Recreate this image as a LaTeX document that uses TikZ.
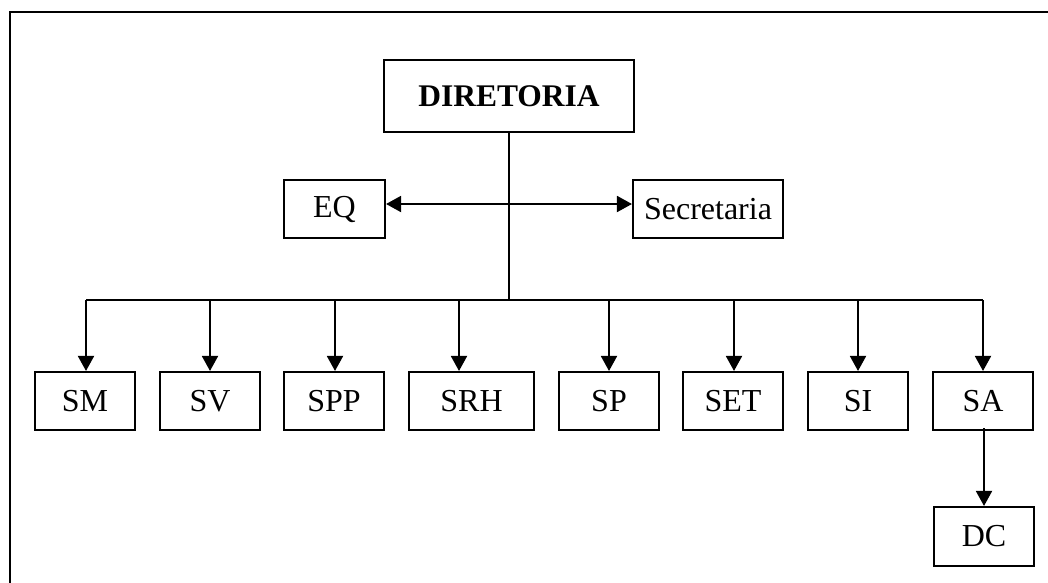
\documentclass[tikz,border=0pt]{standalone}
\usepackage{fontspec}
\setmainfont{Liberation Serif}
\usetikzlibrary{arrows.meta}
\begin{document}
\begin{tikzpicture}[x=1pt,y=-1pt,
  unit/.style={draw, line width=2.1pt, inner sep=0pt, font=\fontsize{32}{36}\selectfont},
  link/.style={line width=1.9pt},
  tip/.style={link, -{Triangle[length=15pt,width=16pt]}},
  both/.style={link, {Triangle[length=15pt,width=16pt]}-{Triangle[length=15pt,width=16pt]}}]
\useasboundingbox (0,0) rectangle (1048,582);
% outer frame
\draw[line width=1.5pt] (10,600) -- (10,12) -- (1070,12);

% top level
\node[unit, minimum width=250pt, minimum height=72pt, font=\fontsize{31.5}{36}\selectfont\bfseries] (dir) at (509,96) {DIRETORIA};
\node[unit, minimum width=101pt, minimum height=58pt] (eq) at (334.5,209) {EQ};
\node[unit, minimum width=150pt, minimum height=58pt] (sec) at (708,209) {Secretaria};

% departments
\node[unit, minimum width=100pt, minimum height=58pt] (sm)  at (85,401)    {SM};
\node[unit, minimum width=100pt, minimum height=58pt] (sv)  at (210,401)   {SV};
\node[unit, minimum width=100pt, minimum height=58pt] (spp) at (334,401)   {SPP};
\node[unit, minimum width=125pt, minimum height=58pt] (srh) at (471.5,401) {SRH};
\node[unit, minimum width=100pt, minimum height=58pt] (sp)  at (609,401)   {SP};
\node[unit, minimum width=100pt, minimum height=58pt] (set) at (733,401)   {SET};
\node[unit, minimum width=100pt, minimum height=58pt] (si)  at (858,401)   {SI};
\node[unit, minimum width=100pt, minimum height=58pt] (sa)  at (983,401)   {SA};
\node[unit, minimum width=100pt, minimum height=59pt] (dc)  at (984,536.5) {DC};

% trunk and side links
\coordinate (hub) at (509,300);
\coordinate (side) at (509,204);
\draw[link] (dir.south) -- (hub);
\draw[both] (eq.east |- side) -- (sec.west |- side);

% distribution bus
\coordinate (bsm)  at (86,300);
\coordinate (bsv)  at (210,300);
\coordinate (bspp) at (335,300);
\coordinate (bsrh) at (459,300);
\coordinate (bsp)  at (609,300);
\coordinate (bset) at (734,300);
\coordinate (bsi)  at (858,300);
\coordinate (bsa)  at (983,300);
\draw[link] (bsm) -- (bsa);
\draw[tip] (bsm)  -- (bsm  |- sm.north);
\draw[tip] (bsv)  -- (bsv  |- sv.north);
\draw[tip] (bspp) -- (bspp |- spp.north);
\draw[tip] (bsrh) -- (bsrh |- srh.north);
\draw[tip] (bsp)  -- (bsp  |- sp.north);
\draw[tip] (bset) -- (bset |- set.north);
\draw[tip] (bsi)  -- (bsi  |- si.north);
\draw[tip] (bsa)  -- (bsa  |- sa.north);
\draw[tip] ([yshift=3pt]sa.south -| dc.north) -- (dc.north);
\end{tikzpicture}
\end{document}
